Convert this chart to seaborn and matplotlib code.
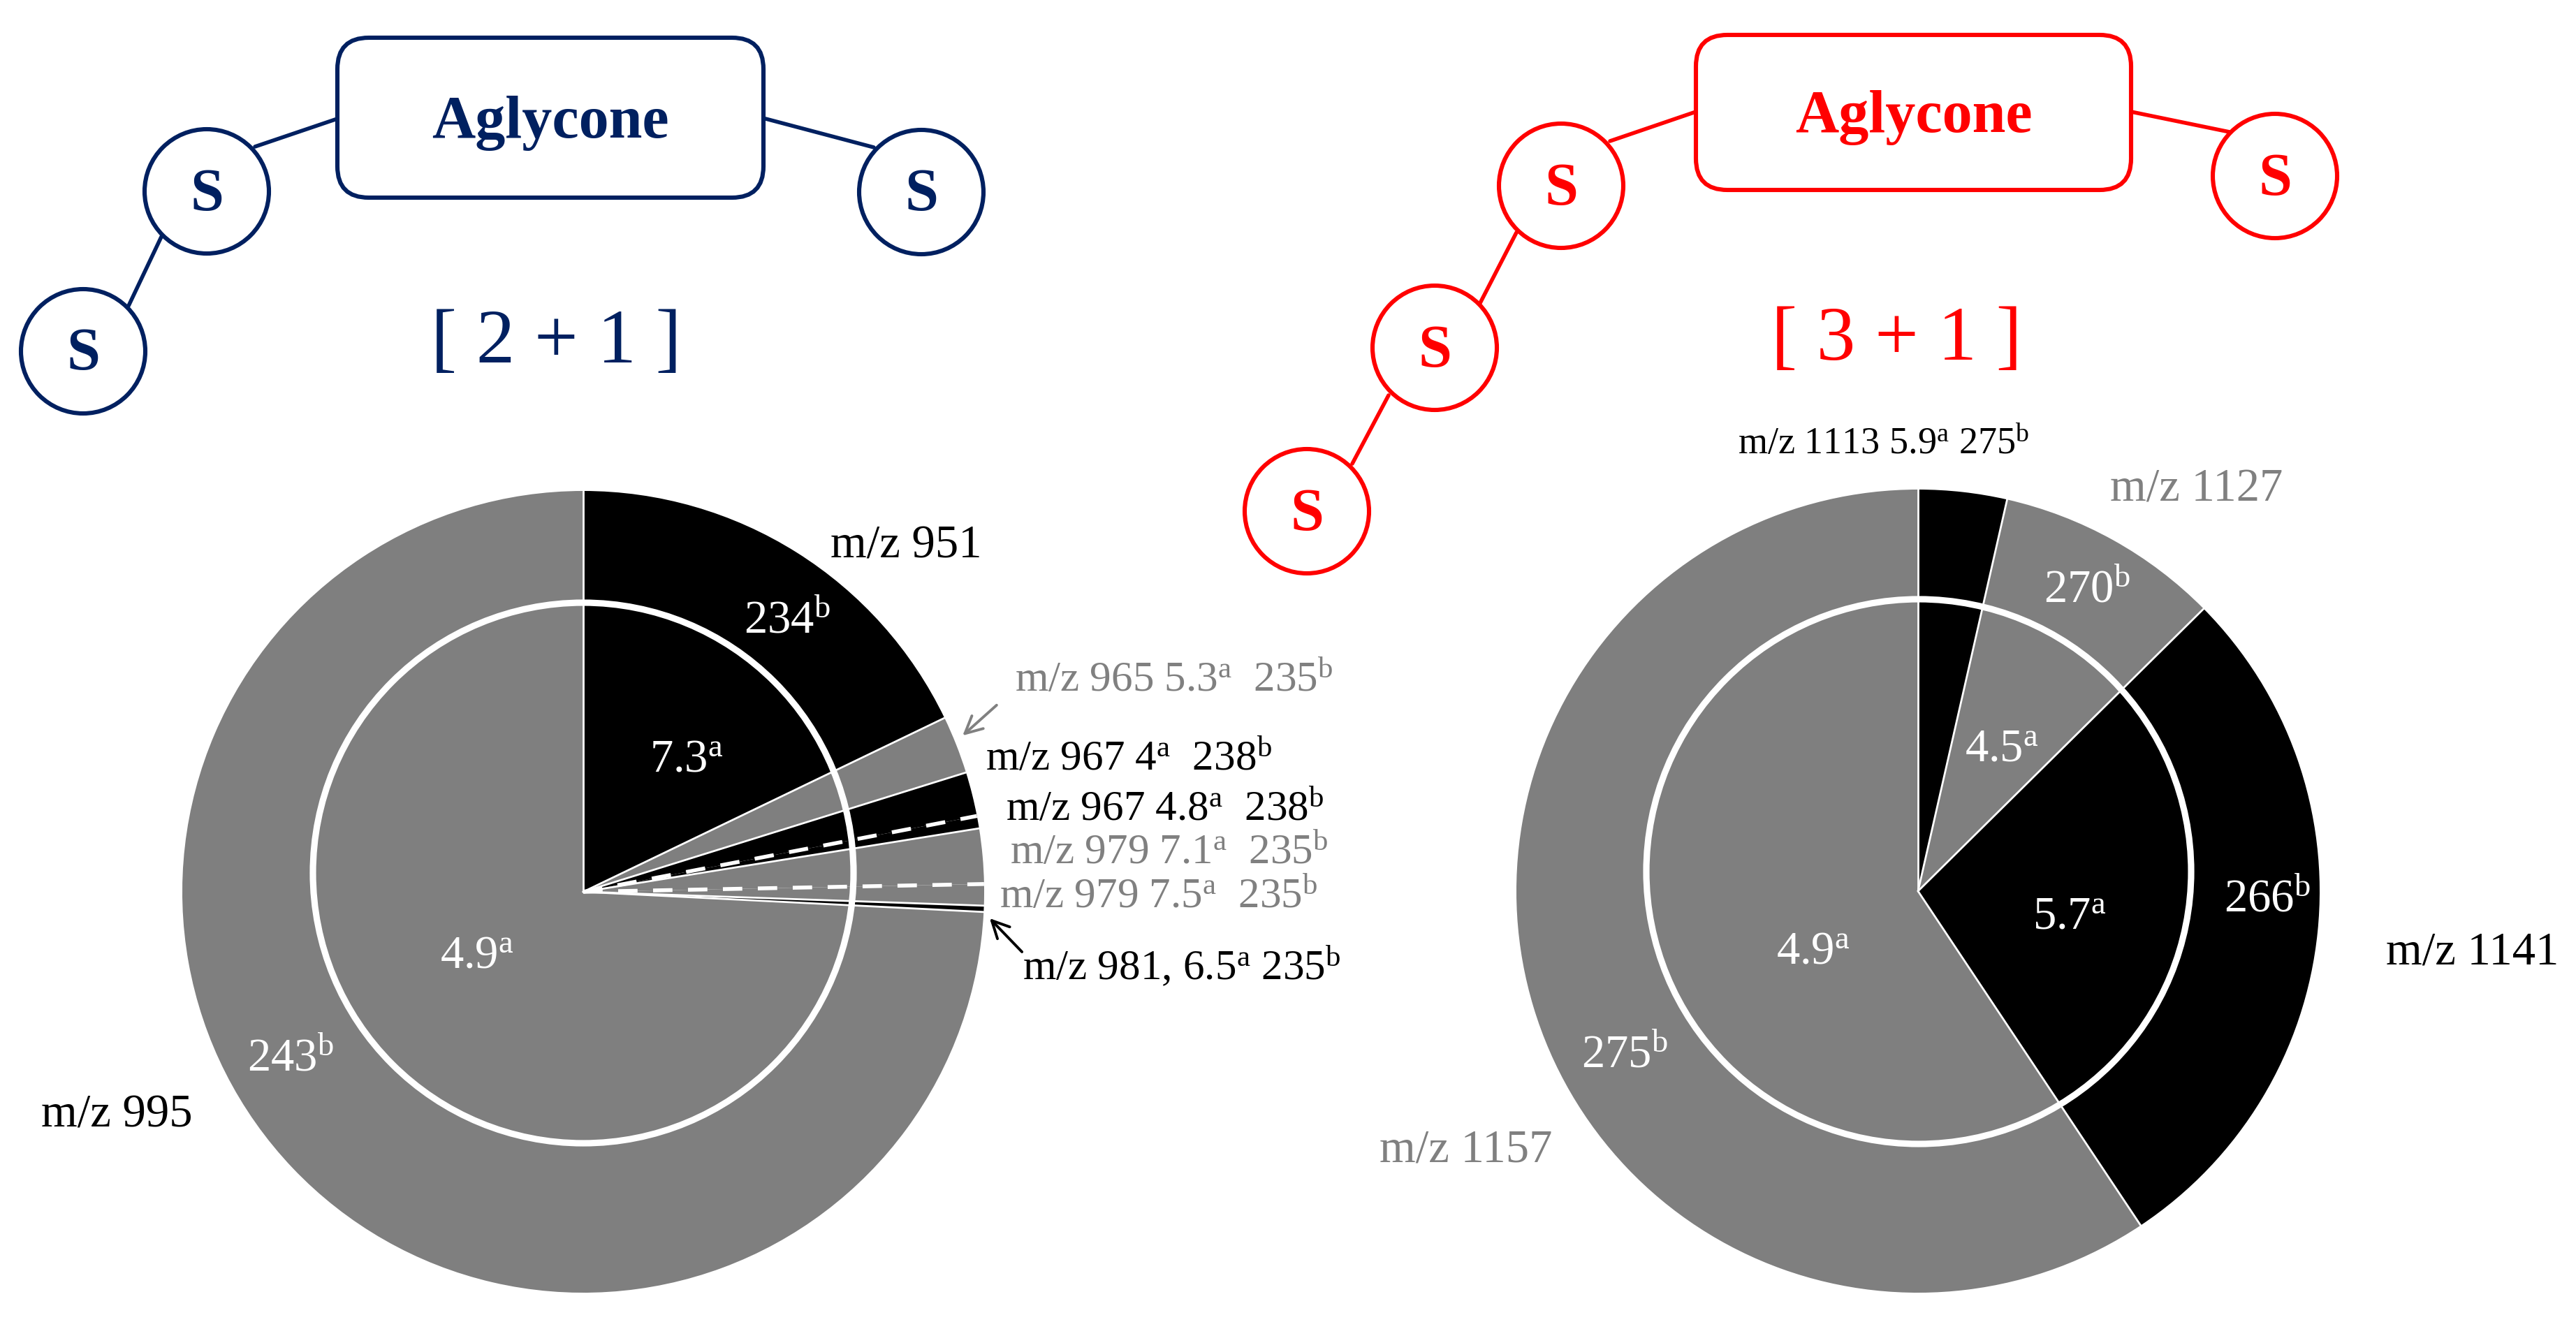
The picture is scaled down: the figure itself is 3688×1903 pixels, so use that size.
import matplotlib
matplotlib.use("Agg")
import matplotlib.pyplot as plt
import seaborn as sns
import numpy as np
from matplotlib.patches import Circle, FancyBboxPatch

# %% data
left_ions = ["m/z 951", "m/z 965", "m/z 967", "m/z 967", "m/z 979", "m/z 979", "m/z 981", "m/z 995"]
left_share = [17.86, 2.33, 1.78, 0.50, 2.22, 0.86, 0.25, 74.20]
left_tone = ["black", "gray", "black", "black", "gray", "gray", "black", "gray"]

right_ions = ["m/z 1113", "m/z 1127", "m/z 1141", "m/z 1157"]
right_share = [3.56, 9.03, 28.06, 59.35]
right_tone = ["black", "gray", "black", "gray"]

# side labels: ion, value a, value b
left_side_a = ["5.3", "4", "4.8", "7.1", "7.5", "6.5"]
left_side_b = ["235", "238", "238", "235", "235", "235"]

left_in_text = ["234$^{b}$", "7.3$^{a}$", "4.9$^{a}$", "243$^{b}$"]
right_in_text = ["270$^{b}$", "4.5$^{a}$", "5.7$^{a}$", "266$^{b}$", "4.9$^{a}$", "275$^{b}$"]

W, H, DPI = 3688, 1903, 200
NAVY = "#002060"
RED = "#ff0000"
tones = {"black": "#000000", "gray": "#7f7f7f"}

sns.set_theme(style="white")
plt.rcParams["font.family"] = ["Liberation Serif", "DejaVu Serif"]
plt.rcParams["mathtext.fontset"] = "custom"
plt.rcParams["mathtext.rm"] = "Liberation Serif"
plt.rcParams["mathtext.it"] = "Liberation Serif"

fig = plt.figure(figsize=(W / DPI, H / DPI), dpi=DPI)
ax = fig.add_axes([0, 0, 1, 1])


def donut(center, shares, tone, radius, ring_center, ring_radius):
    cols = [tones[t] for t in tone]
    # y axis is flipped, so counterclock from -90 reads clockwise from 12 o'clock
    ax.pie(shares, colors=cols, startangle=-90, counterclock=True, center=center,
           radius=radius, wedgeprops=dict(linewidth=0))
    cum = np.concatenate([[0], np.cumsum(shares)]) / np.sum(shares)
    for k in range(len(shares)):
        th = np.deg2rad(-90 + 360 * cum[k])
        same = tone[k] == tone[k - 1]
        ax.plot([center[0], center[0] + radius * np.cos(th)],
                [center[1], center[1] + radius * np.sin(th)],
                color="white", lw=2.0 if same else 1.0,
                ls=(0, (5, 4)) if same else "-", zorder=3)
    ax.add_patch(Circle(ring_center, ring_radius, fill=False, ec="white", lw=3.3, zorder=4))


donut((835, 1277), left_share, left_tone, 574, (835, 1250), 387)
donut((2746, 1276), right_share, right_tone, 575, (2747, 1248), 390)


# %% glycan sketches above each pie
def sketch(color, box, circles, links, tag, tag_xy):
    x0, y0, x1, y1 = box
    ax.add_patch(FancyBboxPatch((x0, y0), x1 - x0, y1 - y0,
                                boxstyle="round,pad=0,rounding_size=45",
                                fc="white", ec=color, lw=2.2, zorder=2))
    ax.text((x0 + x1) / 2, (y0 + y1) / 2 + 8, "Aglycone", color=color, fontsize=31,
            fontweight="bold", ha="center", va="center", zorder=3)
    for (a, b) in links:
        ax.plot([a[0], b[0]], [a[1], b[1]], color=color, lw=2.0, zorder=1)
    for c in circles:
        ax.add_patch(Circle(c, 89, fc="white", ec=color, lw=2.2, zorder=2))
        ax.text(c[0], c[1] + 6, "S", color=color, fontsize=31, fontweight="bold",
                ha="center", va="center", zorder=3)
    ax.text(tag_xy[0], tag_xy[1], tag, color=color, fontsize=40, ha="center", va="center")


sketch(NAVY, (483, 54, 1093, 283),
       [(296, 274), (119, 503), (1319, 275)],
       [((365, 210), (483, 170)), ((231, 339), (184, 438)), ((1096, 170), (1251, 211))],
       "[ 2 + 1 ]", (796, 492))
sketch(RED, (2428, 50, 3051, 272),
       [(2235, 266), (2054, 498), (1871, 732), (3257, 252)],
       [((2305, 202), (2428, 160)), ((2171, 333), (2119, 434)),
        ((1988, 566), (1936, 664)), ((3051, 160), (3192, 189))],
       "[ 3 + 1 ]", (2715, 488))

# %% labels
FS = 24
SIDE = 22
gray_txt = "#808080"

ax.text(1297, 782, left_ions[0], fontsize=FS, color="black", ha="center", va="center")
ax.text(167, 1597, left_ions[7], fontsize=FS, color="black", ha="center", va="center")

side_xy = [(1453, 975), (1411, 1088), (1440, 1160), (1446, 1222), (1431, 1285), (1464, 1385)]
side_ion = [left_ions[1], left_ions[2], left_ions[3], left_ions[4], left_ions[5], left_ions[6] + ","]
side_tone = [left_tone[1], left_tone[2], left_tone[3], left_tone[4], left_tone[5], left_tone[6]]
for i, (x, y) in enumerate(side_xy):
    gap = " " if i == 5 else "  "
    s = f"{side_ion[i]} {left_side_a[i]}$^{{a}}${gap}{left_side_b[i]}$^{{b}}$"
    col = "black" if side_tone[i] == "black" else gray_txt
    ax.text(x, y, s, fontsize=SIDE, color=col, ha="left", va="center")

ax.annotate("", xy=(1374, 1057), xytext=(1431, 1006),
            arrowprops=dict(arrowstyle="->", color=gray_txt, lw=1.4, mutation_scale=22))
ax.annotate("", xy=(1413, 1311), xytext=(1467, 1367),
            arrowprops=dict(arrowstyle="->", color="black", lw=1.4, mutation_scale=22))

for s, (x, y) in zip(left_in_text, [(1127, 890), (983, 1088), (683, 1369), (416, 1517)]):
    ax.text(x, y, s, fontsize=FS, color="white", ha="center", va="center")
for s, (x, y) in zip(right_in_text, [(2988, 846), (2866, 1074), (2963, 1314),
                                     (3246, 1289), (2596, 1363), (2326, 1512)]):
    ax.text(x, y, s, fontsize=FS, color="white", ha="center", va="center")

ax.text(2697, 637, f"{right_ions[0]} 5.9$^{{a}}$ 275$^{{b}}$", fontsize=19.5, color="black",
        ha="center", va="center")
ax.text(3145, 701, right_ions[1], fontsize=FS, color=gray_txt, ha="center", va="center")
ax.text(3540, 1364, right_ions[2], fontsize=FS, color="black", ha="center", va="center")
ax.text(2099, 1647, right_ions[3], fontsize=FS, color=gray_txt, ha="center", va="center")

ax.set_xlim(0, W)
ax.set_ylim(H, 0)
ax.set_aspect("equal")
ax.axis("off")
fig.savefig("out.png", dpi=DPI)
